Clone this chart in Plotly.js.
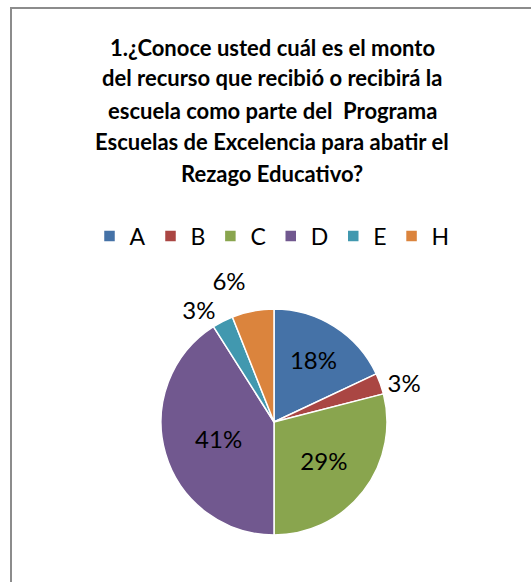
<!DOCTYPE html>
<html><head><meta charset="utf-8">
<script src="https://cdn.plot.ly/plotly-3.0.1.min.js"></script>
<style>
html,body{margin:0;padding:0;background:#fff;}
#frame{position:absolute;left:10px;top:7px;width:560px;height:600px;border-left:2px solid #8c8c8c;border-top:2px solid #8c8c8c;}
#chart{position:absolute;left:0;top:0;width:531px;height:582px;}
.textline{stroke:none !important;}
</style></head>
<body>
<div id="frame"></div>
<div id="chart"></div>
<script>
const categories = ['A','B','C','D','E','H'];
const values = [18, 3, 29, 41, 3, 6];
const colors = ['#4572A7','#AA4643','#89A54E','#71588F','#4198AF','#DB843D'];
const textPositions = ['inside','outside','inside','inside','outside','outside'];
const titleLines = [
  '1.¿Conoce usted cuál es el monto',
  'del recurso que recibió o recibirá la',
  'escuela como parte del  Programa',
  'Escuelas de Excelencia para abatir el',
  'Rezago Educativo?'
];
const FONT = 'Lato, "Open Sans", sans-serif';
const H = 582;
const titleY = [47, 78, 110, 141, 173];
const annotations = titleLines.map((t,i)=>({
  text:'<b>'+t+'</b>', xref:'paper', yref:'paper', x:272/531, y:1-titleY[i]/H,
  xanchor:'center', yanchor:'middle', showarrow:false,
  font:{family:FONT, size:22, color:'#000'}
}));
const data = [{
  type:'pie', labels:categories, values:values, sort:false, direction:'clockwise', rotation:0,
  marker:{colors:colors, line:{color:'#fff', width:1.5}},
  textinfo:'percent', texttemplate:'%{percent:.0%}', textposition:textPositions,
  insidetextorientation:'horizontal',
  textfont:{family:FONT, size:24, color:'#000'},
  outsidetextfont:{family:FONT, size:24, color:'#000'},
  domain:{x:[(274-113)/531,(274+113)/531], y:[(160-113)/582,(160+113)/582]},
  hoverinfo:'none'
}];
const layout = {
  width:531, height:582, margin:{l:0,r:0,t:0,b:0},
  paper_bgcolor:'rgba(0,0,0,0)', plot_bgcolor:'rgba(0,0,0,0)',
  showlegend:true,
  legend:{orientation:'h', x:272/531, xanchor:'center', y:1-236/H, yanchor:'middle',
    font:{family:FONT, size:23, color:'#000'}, traceorder:'normal', itemwidth:30},
  annotations:annotations
};
Plotly.newPlot('chart', data, layout, {staticPlot:true});
</script>
</body></html>
